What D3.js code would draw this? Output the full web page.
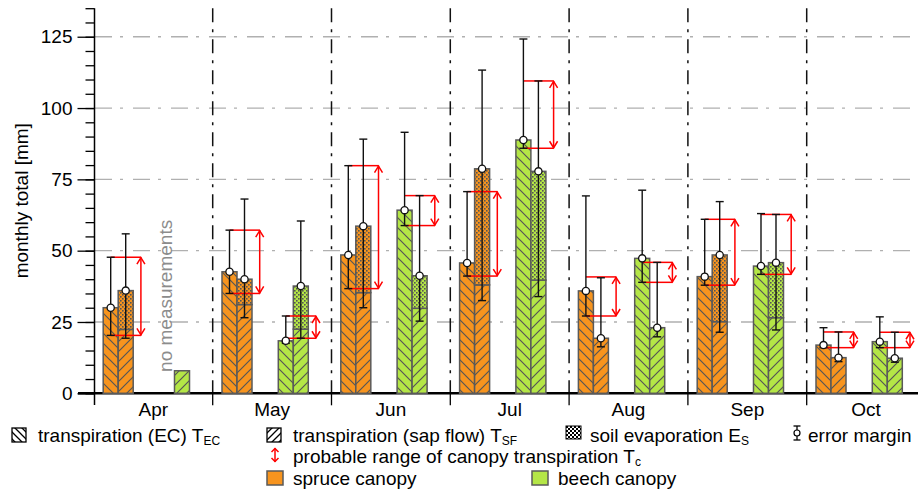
<!DOCTYPE html>
<html>
<head>
<meta charset="utf-8">
<script src="https://cdn.jsdelivr.net/npm/d3@7"></script>
<style>
body{margin:0;background:#fff;}
svg{display:block;font-family:"Liberation Sans",Arial,sans-serif;}
</style>
</head>
<body>
<div class="chart-area"></div>
<script>
// monthly totals [mm]
var months = ["Apr","May","Jun","Jul","Aug","Sep","Oct"];
var yTicks = [0,25,50,75,100,125];

// spruce
var ecSpruce     = [30.0, 42.6, 48.5, 45.7, 35.9, 40.9, 16.9];
var ecSpruceLo   = [20.3, 35.0, 36.7, 41.1, 27.1, 37.9, 16.0];
var ecSpruceHi   = [47.7, 57.2, 79.8, 70.7, 69.2, 61.0, 23.0];
var sfSpruce     = [22.4, 31.1, 35.3, 38.0, 19.3, 25.1, 12.5];
var esSpruce     = [13.6,  8.9, 23.3, 40.7,  0.0, 23.4,  0.0];
var totSpruceLo  = [19.3, 26.5, 30.0, 32.5, 16.3, 21.4, 11.1];
var totSpruceHi  = [55.9, 68.1, 89.1, 113.3, 40.5, 67.2, 21.5];
var rngSpruceLo  = [20.3, 35.0, 36.7, 41.1, 27.1, 37.9, 16.0];
var rngSpruceHi  = [47.7, 57.2, 79.8, 70.7, 40.8, 61.0, 21.5];

// beech (no EC measurements in April)
var ecBeech      = [null, 18.4, 64.2, 88.8, 47.3, 44.6, 18.1];
var ecBeechLo    = [null, 17.5, 58.8, 85.9, 38.9, 41.7, 16.0];
var ecBeechHi    = [null, 27.1, 91.5, 124.2, 71.2, 63.0, 26.8];
var sfBeech      = [ 7.9, 22.5, 29.8, 39.7, 23.0, 26.5, 12.3];
var esBeech      = [ 0.0, 15.1, 11.4, 38.1,  0.0, 19.3,  0.0];
var totBeechLo   = [null, 19.3, 25.3, 33.9, 19.8, 22.2, 10.9];
var totBeechHi   = [null, 60.4, 69.3, 109.5, 45.9, 62.7, 21.4];
var rngBeechLo   = [null, 19.3, 58.8, 85.9, 38.9, 41.7, 16.0];
var rngBeechHi   = [null, 27.1, 69.3, 109.5, 45.9, 62.7, 21.4];

var species = [
  {key:"spruce", color:"#f7941e", ec:ecSpruce, ecLo:ecSpruceLo, ecHi:ecSpruceHi,
   sf:sfSpruce, es:esSpruce, totLo:totSpruceLo, totHi:totSpruceHi, rLo:rngSpruceLo, rHi:rngSpruceHi},
  {key:"beech", color:"#b4e646", ec:ecBeech, ecLo:ecBeechLo, ecHi:ecBeechHi,
   sf:sfBeech, es:esBeech, totLo:totBeechLo, totHi:totBeechHi, rLo:rngBeechLo, rHi:rngBeechHi}
];

var W = 918, H = 494;
var FS = "19px";
var svg = d3.select(".chart-area").append("svg")
    .attr("width", W).attr("height", H);

var x0 = d3.scaleBand().domain(months).range([93.9, 925.5]);
var xs = d3.scaleBand().domain(["spruce","beech"]).range([9.3, 95.6]).paddingInner(0.467);
var xb = d3.scaleBand().domain(["ec","sf"]).range([0, xs.bandwidth()]);
var y = d3.scaleLinear().domain([0,135]).range([393.3, 8.2]);

var defs = svg.append("defs");
function hatch(id, d, size, col, sw, bg){
  var p = defs.append("pattern").attr("id", id)
      .attr("patternUnits","userSpaceOnUse").attr("width",size).attr("height",size);
  if(bg) p.append("rect").attr("width",size).attr("height",size).attr("fill",bg);
  p.append("path").attr("d",d).attr("stroke",col).attr("stroke-width",sw).attr("fill","none");
}
hatch("hEC", "M0,0L10,10M-2,8L2,12M8,-2L12,2", 10, "#555", 1.2);
hatch("hSF", "M0,10L10,0M-2,2L2,-2M8,12L12,8", 10, "#555", 1.2);
hatch("lEC", "M0,0L7,7M-2,5L2,9M5,-2L9,2", 7, "#000", 1.3, "#fff");
hatch("lSF", "M0,7L7,0M-2,2L2,-2M5,9L9,5", 7, "#000", 1.3, "#fff");
var dp = defs.append("pattern").attr("id","dots")
    .attr("patternUnits","userSpaceOnUse").attr("width",4).attr("height",4);
dp.append("rect").attr("x",0).attr("y",0).attr("width",1.6).attr("height",1.6).attr("fill","#555");
dp.append("rect").attr("x",2).attr("y",2).attr("width",1.6).attr("height",1.6).attr("fill","#555");
var dl = defs.append("pattern").attr("id","dotsLeg")
    .attr("patternUnits","userSpaceOnUse").attr("width",4).attr("height",4);
dl.append("rect").attr("width",4).attr("height",4).attr("fill","#fff");
dl.append("rect").attr("x",0).attr("y",0).attr("width",2).attr("height",2).attr("fill","#000");
dl.append("rect").attr("x",2).attr("y",2).attr("width",2).attr("height",2).attr("fill","#000");

// horizontal grid
svg.append("g").selectAll("line").data(yTicks.slice(1)).join("line")
  .attr("x1", 95).attr("x2", W)
  .attr("y1", function(d){ return y(d); }).attr("y2", function(d){ return y(d); })
  .attr("stroke","#b0b0b0").attr("stroke-width",1.3).attr("stroke-dasharray","17,8,3,10");

// month dividers
svg.append("g").selectAll("line").data(months.slice(1)).join("line")
  .attr("x1", function(d){ return x0(d); }).attr("x2", function(d){ return x0(d); })
  .attr("y1", y(135)).attr("y2", y(0))
  .attr("stroke","#111").attr("stroke-width",1.5).attr("stroke-dasharray","14,7,3,7");

// y axis with minor ticks
var minor = d3.range(0, 136, 5);
svg.append("g").attr("transform","translate(94.5,0)")
  .call(d3.axisLeft(y).tickValues(minor).tickSize(9).tickFormat(""))
  .call(function(g){ g.select(".domain").remove(); g.selectAll("line").attr("stroke","#000").attr("stroke-width",1.3); });
svg.append("g").attr("transform","translate(94.5,0)")
  .call(d3.axisLeft(y).tickValues(yTicks).tickSize(17).tickPadding(5))
  .attr("font-family", null).attr("font-size", null)
  .call(function(g){
    g.select(".domain").attr("d","M0,"+y(135)+"V405").attr("stroke","#000").attr("stroke-width",1.5);
    g.selectAll("line").attr("stroke","#000").attr("stroke-width",1.3);
    g.selectAll("text").style("font-size",FS).attr("fill","#000");
  });

// x axis
var xAxis = d3.axisBottom(x0).tickSize(0).tickPadding(0);
svg.append("g").attr("transform","translate(0,"+y(0)+")")
  .call(xAxis)
  .attr("font-family", null).attr("font-size", null)
  .call(function(g){
    g.select(".domain").remove();
    g.selectAll("text").style("font-size",FS).attr("fill","#000")
      .attr("y", 23).attr("dy", 0);
  });
svg.append("g").selectAll("line").data(months.slice(1)).join("line")
  .attr("x1", function(d){ return x0(d); }).attr("x2", function(d){ return x0(d); })
  .attr("y1", y(0)).attr("y2", y(0)+12).attr("stroke","#000").attr("stroke-width",1.3);
svg.append("line").attr("x1",78).attr("x2",W).attr("y1",y(0)).attr("y2",y(0))
  .attr("stroke","#000").attr("stroke-width",2.6);

// axis title
svg.append("text")
  .attr("transform","translate(28,"+y(67.5)+") rotate(-90)")
  .attr("text-anchor","middle").style("font-size",FS)
  .text("monthly total [mm]");

// no measurements note
svg.append("text")
  .attr("transform","translate(172,"+y(7.5)+") rotate(-90)")
  .attr("fill","#8c8c8c").style("font-size",FS)
  .text("no measurements");

var plot = svg.append("g");
function bar(g, x, w, v0, v1, fill, pat){
  g.append("rect").attr("x",x).attr("width",w)
    .attr("y",y(v1)).attr("height",y(v0)-y(v1)).attr("fill",fill);
  g.append("rect").attr("x",x).attr("width",w)
    .attr("y",y(v1)).attr("height",y(v0)-y(v1)).attr("fill","url(#"+pat+")")
    .attr("stroke","#5a5a5a").attr("stroke-width",1.5);
}
function errbar(g, cx, lo, hi){
  g.append("line").attr("x1",cx).attr("x2",cx).attr("y1",y(lo)).attr("y2",y(hi))
    .attr("stroke","#111").attr("stroke-width",1.4);
  [lo,hi].forEach(function(t){
    g.append("line").attr("x1",cx-4).attr("x2",cx+4).attr("y1",y(t)).attr("y2",y(t))
      .attr("stroke","#111").attr("stroke-width",1.4);
  });
}
function dot(g, cx, v){
  g.append("circle").attr("cx",cx).attr("cy",y(v)).attr("r",3.6)
    .attr("fill","#fff").attr("stroke","#111").attr("stroke-width",1.3);
}
function arrow(g, ax, y1, y2, hl, hw){
  g.append("line").attr("x1",ax).attr("x2",ax).attr("y1",y1).attr("y2",y2)
    .attr("stroke","red").attr("stroke-width",1.5);
  g.append("path").attr("d","M"+(ax-hw)+","+(y1+hl)+"L"+ax+","+(y1+0.5)+"L"+(ax+hw)+","+(y1+hl)
    +"M"+(ax-hw)+","+(y2-hl)+"L"+ax+","+(y2-0.5)+"L"+(ax+hw)+","+(y2-hl))
    .attr("stroke","red").attr("stroke-width",1.5).attr("fill","none");
}

species.forEach(function(s){
  months.forEach(function(m, i){
    var gx = x0(m) + xs(s.key);
    var bw = xb.bandwidth();
    var xEC = gx + xb("ec"), xSF = gx + xb("sf");
    var g = plot.append("g");
    if(s.ec[i] != null) bar(g, xEC, bw, 0, s.ec[i], s.color, "hEC");
    bar(g, xSF, bw, 0, s.sf[i], s.color, "hSF");
    if(s.es[i] > 0) bar(g, xSF, bw, s.sf[i], s.sf[i]+s.es[i], s.color, "dots");
  });
});

species.forEach(function(s){
  months.forEach(function(m, i){
    if(s.rLo[i] == null) return;
    var gx = x0(m) + xs(s.key);
    var bw = xb.bandwidth();
    var cEC = gx + xb("ec") + bw/2, cSF = gx + xb("sf") + bw/2;
    var ax = gx + xs.bandwidth() + 7.7;
    var g = plot.append("g");
    [s.rLo[i], s.rHi[i]].forEach(function(v){
      g.append("line").attr("x1",cEC).attr("x2",ax).attr("y1",y(v)).attr("y2",y(v))
        .attr("stroke","red").attr("stroke-width",1.5);
    });
    arrow(g, ax, y(s.rHi[i]), y(s.rLo[i]), 7, 4);
    errbar(g, cEC, s.ecLo[i], s.ecHi[i]);
    errbar(g, cSF, s.totLo[i], s.totHi[i]);
    dot(g, cEC, s.ec[i]);
    dot(g, cSF, s.sf[i]+s.es[i]);
  });
});

// legend
var leg = svg.append("g").style("font-size",FS);
function legText(x, yb, txt, sub){
  var t = leg.append("text").attr("x",x).attr("y",yb).text(txt);
  if(sub) t.append("tspan").attr("dy",3).style("font-size","12px").text(sub);
}
leg.append("rect").attr("x",12).attr("y",428).attr("width",14).attr("height",14)
  .attr("fill","url(#lEC)").attr("stroke","#000").attr("stroke-width",1.3);
legText(38, 442, "transpiration (EC) T", "EC");
leg.append("rect").attr("x",267).attr("y",428).attr("width",14).attr("height",14)
  .attr("fill","url(#lSF)").attr("stroke","#000").attr("stroke-width",1.3);
legText(293, 442, "transpiration (sap flow) T", "SF");
leg.append("rect").attr("x",566).attr("y",426).attr("width",15).attr("height",13)
  .attr("fill","url(#dotsLeg)").attr("stroke","#000").attr("stroke-width",1);
legText(590, 442, "soil evaporation E", "S");
var ex = 797;
leg.append("line").attr("x1",ex).attr("x2",ex).attr("y1",426).attr("y2",440).attr("stroke","#000").attr("stroke-width",1.3);
leg.append("line").attr("x1",ex-3.5).attr("x2",ex+3.5).attr("y1",426).attr("y2",426).attr("stroke","#000").attr("stroke-width",1.3);
leg.append("line").attr("x1",ex-3.5).attr("x2",ex+3.5).attr("y1",440).attr("y2",440).attr("stroke","#000").attr("stroke-width",1.3);
leg.append("circle").attr("cx",ex).attr("cy",433).attr("r",3).attr("fill","#fff").attr("stroke","#000").attr("stroke-width",1.2);
legText(808, 442, "error margin");

arrow(leg, 275, 448, 462, 4, 3.5);
legText(293, 463, "probable range of canopy transpiration T", "c");

leg.append("rect").attr("x",267).attr("y",471).attr("width",16).attr("height",14)
  .attr("fill","#f7941e").attr("stroke","#5a5a5a").attr("stroke-width",1.5);
legText(293, 485, "spruce canopy");
leg.append("rect").attr("x",532).attr("y",471).attr("width",16).attr("height",14)
  .attr("fill","#b4e646").attr("stroke","#5a5a5a").attr("stroke-width",1.5);
legText(558, 485, "beech canopy");
</script>
</body>
</html>
